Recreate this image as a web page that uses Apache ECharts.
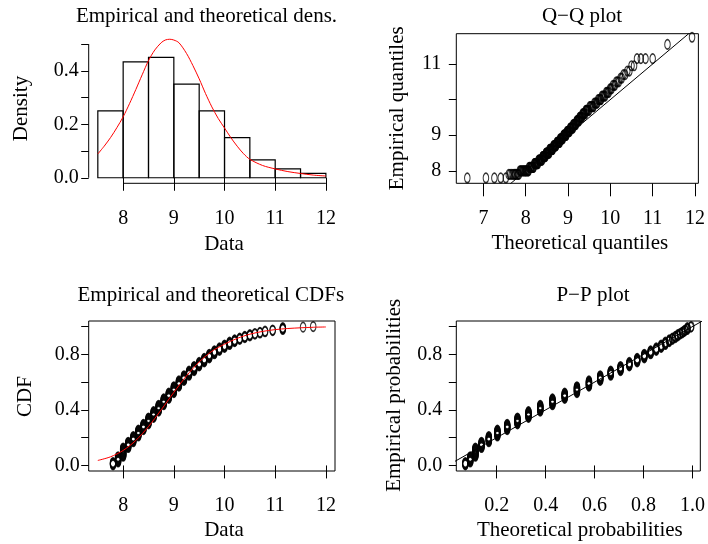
<!DOCTYPE html>
<html><head><meta charset="utf-8">
<script src="https://cdn.jsdelivr.net/npm/echarts@6/dist/echarts.min.js"></script>
<style>html,body{margin:0;padding:0;background:#fff}#c{width:708px;height:544px}</style>
</head><body><div id="c"></div>
<script>
const FONT = '"Liberation Serif", "DejaVu Serif", serif';

// Histogram (bin edges and densities)
const histBreaks = [7.5, 8, 8.5, 9, 9.5, 10, 10.5, 11, 11.5, 12];
const histDensity = [0.25, 0.433, 0.45, 0.35, 0.25, 0.15, 0.0667, 0.0333, 0.0167];

// Theoretical density curve (red)
const densX = [7.5, 7.625, 7.75, 7.875, 8.0, 8.125, 8.25, 8.375, 8.5, 8.625, 8.75, 8.83, 8.92, 9.0, 9.1, 9.25, 9.375, 9.5, 9.625, 9.75, 9.875, 10.0, 10.125, 10.25, 10.375, 10.5, 10.75, 11.0, 11.25, 11.5, 11.75, 12.0];
const densY = [0.089, 0.118, 0.15, 0.187, 0.228, 0.277, 0.33, 0.385, 0.438, 0.478, 0.505, 0.515, 0.518, 0.515, 0.505, 0.465, 0.42, 0.37, 0.315, 0.265, 0.222, 0.186, 0.15, 0.118, 0.09, 0.069, 0.046, 0.033, 0.023, 0.016, 0.010, 0.0065];

// Theoretical CDF curve (red)
const cdfX = [7.5, 7.75, 8.0, 8.25, 8.5, 8.75, 9.0, 9.25, 9.5, 9.75, 10.0, 10.25, 10.5, 10.75, 11.0, 11.25, 11.5, 11.75, 12.0];
const cdfY = [0.036, 0.062, 0.108, 0.18, 0.28, 0.40, 0.526, 0.645, 0.745, 0.822, 0.873, 0.915, 0.945, 0.965, 0.978, 0.986, 0.991, 0.995, 0.997];

// Empirical data: distinct values and how many observations at each
const dataValues = [7.8, 7.9, 8.0, 8.1, 8.2, 8.3, 8.4, 8.5, 8.6, 8.7, 8.8, 8.9, 9.0, 9.1, 9.2, 9.3, 9.4, 9.5, 9.6, 9.7, 9.8, 9.9, 10.0, 10.1, 10.2, 10.3, 10.4, 10.5, 10.6, 10.7, 10.8, 10.95, 11.15, 11.55, 11.75];
const dataCounts = [5, 10, 15, 10, 10, 11, 10, 11, 11, 11, 11, 10, 11, 10, 9, 8, 8, 7, 7, 7, 6, 5, 5, 5, 4, 3, 3, 3, 2, 2, 2, 2, 4, 1, 1];

// P-P: theoretical probability of each distinct value
const ppTheoretical = [0.072, 0.092, 0.113, 0.138, 0.168, 0.203, 0.243, 0.285, 0.330, 0.378, 0.428, 0.478, 0.528, 0.577, 0.623, 0.666, 0.706, 0.742, 0.774, 0.803, 0.829, 0.852, 0.872, 0.889, 0.905, 0.918, 0.930, 0.940, 0.949, 0.957, 0.964, 0.970, 0.979, 0.993, 0.995];

const qqTheoretical = [6.62, 7.06, 7.26, 7.41, 7.53, 7.60, 7.63, 7.67, 7.70, 7.73,
 7.75, 7.77, 7.80, 7.82, 7.84, 7.86, 7.88, 7.89, 7.91, 7.93,
 7.94, 7.96, 7.97, 7.99, 8.00, 8.01, 8.03, 8.04, 8.06, 8.07,
 8.08, 8.09, 8.11, 8.12, 8.13, 8.14, 8.15, 8.17, 8.18, 8.19,
 8.20, 8.21, 8.22, 8.23, 8.24, 8.25, 8.26, 8.27, 8.28, 8.29,
 8.30, 8.31, 8.32, 8.33, 8.34, 8.34, 8.35, 8.36, 8.37, 8.38,
 8.39, 8.40, 8.40, 8.41, 8.42, 8.43, 8.44, 8.44, 8.45, 8.46,
 8.47, 8.48, 8.48, 8.49, 8.50, 8.51, 8.52, 8.52, 8.53, 8.54,
 8.55, 8.56, 8.56, 8.57, 8.58, 8.59, 8.60, 8.60, 8.61, 8.62,
 8.63, 8.63, 8.64, 8.65, 8.66, 8.66, 8.67, 8.68, 8.68, 8.69,
 8.70, 8.71, 8.71, 8.72, 8.73, 8.74, 8.75, 8.75, 8.76, 8.77,
 8.78, 8.78, 8.79, 8.80, 8.81, 8.81, 8.82, 8.83, 8.83, 8.84,
 8.85, 8.86, 8.86, 8.87, 8.88, 8.89, 8.90, 8.90, 8.91, 8.92,
 8.93, 8.93, 8.94, 8.95, 8.96, 8.96, 8.97, 8.98, 8.98, 8.99,
 9.00, 9.01, 9.01, 9.02, 9.03, 9.04, 9.05, 9.05, 9.06, 9.07,
 9.08, 9.09, 9.10, 9.11, 9.12, 9.12, 9.13, 9.14, 9.15, 9.16,
 9.17, 9.18, 9.19, 9.20, 9.21, 9.21, 9.22, 9.23, 9.24, 9.25,
 9.26, 9.27, 9.28, 9.29, 9.30, 9.31, 9.32, 9.33, 9.34, 9.35,
 9.36, 9.37, 9.38, 9.39, 9.41, 9.42, 9.43, 9.44, 9.45, 9.46,
 9.48, 9.50, 9.51, 9.53, 9.55, 9.57, 9.59, 9.60, 9.62, 9.64,
 9.66, 9.68, 9.69, 9.71, 9.73, 9.75, 9.77, 9.78, 9.80, 9.82,
 9.84, 9.86, 9.88, 9.90, 9.92, 9.94, 9.96, 9.99, 10.01, 10.03,
 10.06, 10.09, 10.11, 10.14, 10.17, 10.20, 10.24, 10.27, 10.31, 10.35,
 10.40, 10.45, 10.50, 10.56, 10.63, 10.72, 10.83, 11.00, 11.35, 11.93];

// Q-Q axis ranges
const qqXRange = [6.36, 12.08];
const qqYRange = [7.65, 11.85];

// Tick values and labels
const dataTicks = [8, 9, 10, 11, 12];
const densTicks = [0, 0.1, 0.2, 0.3, 0.4, 0.5];
const densLabels = [0, 0.2, 0.4];
const qqXTicks = [7, 8, 9, 10, 11, 12];
const qqYTicks = [8, 9, 10, 11];
const qqYLabels = [8, 9, 11];
const probTicks = [0, 0.2, 0.4, 0.6, 0.8, 1.0];
const probLabels = [0, 0.4, 0.8];
const ppXTicks = [0.2, 0.4, 0.6, 0.8, 1.0];

// ---- derived from the data above ----
const sorted = [];
dataValues.forEach((v, j) => { for (let k = 0; k < dataCounts[j]; k++) sorted.push(v); });
const n = sorted.length;
const cdfPoints = sorted.map((v, i) => [v, (i + 1) / n]);
const qqPoints = sorted.map((v, i) => [qqTheoretical[i], v]);
const ppPoints = [];
{ let r = 0; dataValues.forEach((v, j) => { for (let k = 0; k < dataCounts[j]; k++) { r++; ppPoints.push([ppTheoretical[j], r / n]); } }); }

function ext(a, b) { const d = (b - a) * 0.04; return [a - d, b + d]; }
const xr0 = ext(histBreaks[0], histBreaks[histBreaks.length - 1]);
const yr0 = ext(0, Math.max(...densY, ...histDensity));
const xr1 = qqXRange;
const yr1 = qqYRange;
const yrP = ext(0, 1);
const xr3 = ext(Math.min(...ppTheoretical), Math.max(...ppTheoretical));

const G = [
  {left: 88.7, top: 33.7, width: 246.3, height: 149.6},
  {left: 456.3, top: 33.7, width: 246.7, height: 149.6},
  {left: 88.7, top: 321, width: 246.3, height: 150},
  {left: 456.3, top: 321, width: 246.7, height: 150}
];
const ELLIPSE = 'path://M0,1A1,1 0 1,1 2,1A1,1 0 1,1 0,1Z';
const TICKFS = 20, TITLEFS = 21;

function xAx(gi, r, ticks, labels, fmt) {
  return { type: 'value', gridIndex: gi, min: r[0], max: r[1],
    axisLine: {show: false}, splitLine: {show: false},
    axisTick: {show: true, customValues: ticks, length: 13, lineStyle: {color: '#000', width: 1}},
    axisLabel: {show: true, customValues: labels, margin: 25, color: '#000', fontFamily: FONT, fontSize: TICKFS,
      formatter: fmt || (v => String(v))} };
}
function yAx(gi, r, ticks, labels, fmt, margin) {
  return { type: 'value', gridIndex: gi, min: r[0], max: r[1],
    axisLine: {show: false}, splitLine: {show: false},
    axisTick: {show: true, customValues: ticks, length: 7.5, lineStyle: {color: '#000', width: 1}},
    axisLabel: {show: true, customValues: labels, margin: margin, color: '#000', fontFamily: FONT, fontSize: TICKFS,
      formatter: fmt || (v => String(v))} };
}
const f1 = v => v.toFixed(1);

const scatterStyle = {color: 'rgba(0,0,0,0)', borderColor: '#000', borderWidth: 1.3};
const SYM = [5.5, 9.5];

function txt(x, y, s, rot) {
  return {type: 'text', x: x, y: y, rotation: rot ? Math.PI / 2 : 0,
    style: {text: s, font: TITLEFS + 'px ' + FONT, fill: '#000', textAlign: 'center', textVerticalAlign: 'middle'}};
}

const option = {
  animation: false,
  grid: [
    Object.assign({show: false}, G[0]),
    Object.assign({show: true, borderColor: '#000', borderWidth: 1}, G[1]),
    Object.assign({show: true, borderColor: '#000', borderWidth: 1}, G[2]),
    Object.assign({show: true, borderColor: '#000', borderWidth: 1}, G[3])
  ],
  xAxis: [
    xAx(0, xr0, dataTicks, dataTicks),
    xAx(1, xr1, qqXTicks, qqXTicks),
    xAx(2, xr0, dataTicks, dataTicks),
    xAx(3, xr3, ppXTicks, ppXTicks, f1)
  ],
  yAxis: [
    yAx(0, yr0, densTicks, densLabels, f1, 10),
    yAx(1, yr1, qqYTicks, qqYLabels, null, 15),
    yAx(2, yrP, probTicks, probLabels, f1, 9),
    yAx(3, yrP, probTicks, probLabels, f1, 14)
  ],
  graphic: [
    txt(206.5, 16, 'Empirical and theoretical dens.'),
    txt(224, 244, 'Data'),
    txt(21.5, 108.5, 'Density', true),
    txt(582, 16.5, 'Q\u2212Q plot'),
    txt(579.8, 243.3, 'Theoretical quantiles'),
    txt(397, 108.3, 'Empirical quantiles', true),
    txt(210.8, 295.3, 'Empirical and theoretical CDFs'),
    txt(224, 530, 'Data'),
    txt(25, 396.5, 'CDF', true),
    txt(593, 295.3, 'P\u2212P plot'),
    txt(579.8, 530, 'Theoretical probabilities'),
    txt(394, 395.3, 'Empirical probabilities', true)
  ],
  series: [
    { type: 'custom', xAxisIndex: 0, yAxisIndex: 0, silent: true,
      data: histDensity.map((d, i) => [histBreaks[i], histBreaks[i + 1], d]),
      encode: {x: [0, 1], y: 2},
      renderItem: (p, api) => {
        const a = api.coord([api.value(0), api.value(2)]);
        const b = api.coord([api.value(1), 0]);
        return {type: 'rect', shape: {x: a[0], y: a[1], width: b[0] - a[0], height: b[1] - a[1]},
          style: {fill: 'none', stroke: '#000', lineWidth: 1.2}};
      } },
    { type: 'custom', xAxisIndex: 0, yAxisIndex: 0, silent: true, clip: false,
      data: [[10, 0.25]], encode: {x: 0, y: 1},
      renderItem: (p, api) => {
        const a = api.coord([dataTicks[0], yr0[0]]), b = api.coord([dataTicks[dataTicks.length - 1], yr0[0]]);
        const c = api.coord([xr0[0], densTicks[0]]), d = api.coord([xr0[0], densTicks[densTicks.length - 1]]);
        return {type: 'group', children: [
          {type: 'line', shape: {x1: a[0], y1: a[1], x2: b[0], y2: b[1]}, style: {stroke: '#000', lineWidth: 1}},
          {type: 'line', shape: {x1: c[0], y1: c[1], x2: d[0], y2: d[1]}, style: {stroke: '#000', lineWidth: 1}}
        ]};
      } },
    { type: 'line', xAxisIndex: 0, yAxisIndex: 0, data: densX.map((x, i) => [x, densY[i]]),
      showSymbol: false, smooth: 0.3, lineStyle: {color: '#ff0000', width: 1}, silent: true },

    { type: 'line', xAxisIndex: 1, yAxisIndex: 1, data: [[xr1[0] - 1, xr1[0] - 1], [xr1[1] + 1, xr1[1] + 1]],
      showSymbol: false, clip: true, lineStyle: {color: '#000', width: 1}, silent: true },
    { type: 'scatter', xAxisIndex: 1, yAxisIndex: 1, data: qqPoints, symbol: ELLIPSE, symbolSize: SYM,
      itemStyle: scatterStyle, silent: true },

    { type: 'line', xAxisIndex: 2, yAxisIndex: 2, data: cdfX.map((x, i) => [x, cdfY[i]]),
      showSymbol: false, smooth: 0.3, lineStyle: {color: '#ff0000', width: 1}, silent: true },
    { type: 'scatter', xAxisIndex: 2, yAxisIndex: 2, data: cdfPoints, symbol: ELLIPSE, symbolSize: SYM,
      itemStyle: scatterStyle, silent: true },

    { type: 'line', xAxisIndex: 3, yAxisIndex: 3, data: [[-1, -1], [2, 2]],
      showSymbol: false, clip: true, lineStyle: {color: '#000', width: 1}, silent: true },
    { type: 'scatter', xAxisIndex: 3, yAxisIndex: 3, data: ppPoints, symbol: ELLIPSE, symbolSize: SYM,
      itemStyle: scatterStyle, silent: true }
  ]
};
const chart = echarts.init(document.getElementById('c'), null, {renderer: 'canvas'});
chart.setOption(option);
</script>
</body></html>
